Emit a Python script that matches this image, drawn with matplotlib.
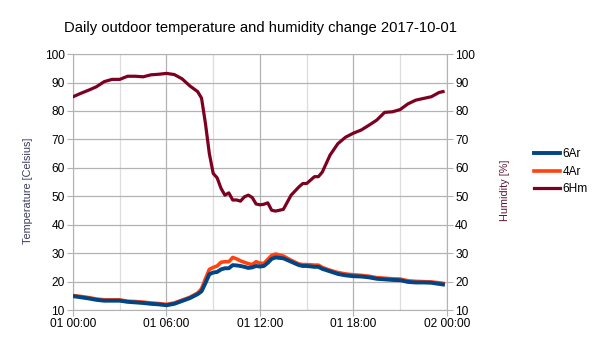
"""
Daily outdoor temperature and humidity change, 2017-10-01.
Recreates a LibreOffice-style line chart with a mirrored right axis.
"""

import matplotlib
matplotlib.use("Agg")

import matplotlib.dates as mdates
import matplotlib.pyplot as plt
import pandas as pd

plt.rcParams["font.family"] = ["Liberation Sans", "DejaVu Sans"]

# ---------------------------------------------------------------------------
# Data
# ---------------------------------------------------------------------------

hours = [
    0, 0.5, 1, 1.5, 2, 2.5, 3, 3.5, 4, 4.5, 5, 5.5, 6, 6.5, 7, 7.5, 8,
    8.25, 8.5, 8.75, 9, 9.25, 9.5, 9.75, 10, 10.25, 10.5, 10.75, 11, 11.25,
    11.5, 11.75, 12, 12.25, 12.5, 12.75,
    13, 13.5, 14, 14.5, 14.75, 15, 15.5, 15.75,
    16, 16.5, 17, 17.5, 18, 18.5, 19, 19.5, 20, 20.5, 21, 21.5, 22, 22.5,
    23, 23.5, 23.75,
]

temp_6ar = [
    14.9, 14.5, 14.1, 13.6, 13.3, 13.3, 13.3, 12.9, 12.7, 12.5, 12.2, 12.0,
    11.7, 12.2, 13.2, 14.2, 15.6,
    16.6, 19.5, 22.6, 23.2, 23.4, 24.3, 24.7, 24.7, 25.8, 25.7, 25.5, 25.2,
    24.8, 25.0, 25.5, 25.3, 25.5, 26.6, 28.0,
    28.5, 28.2, 27.0, 25.8, 25.5, 25.5, 25.2, 25.2,
    24.5, 23.6, 22.7, 22.2, 21.9, 21.8, 21.5, 21.0, 20.8, 20.6, 20.5, 19.9,
    19.7, 19.7, 19.6, 19.2, 19.0,
]

temp_4ar = [
    15.1, 14.8, 14.4, 13.9, 13.6, 13.6, 13.6, 13.1, 13.0, 12.8, 12.5, 12.3,
    12.0, 12.5, 13.5, 14.5, 16.0,
    17.5, 21.0, 24.3, 25.0, 25.5, 26.8, 27.0, 27.0, 28.5, 28.0, 27.3, 26.8,
    26.3, 26.0, 27.0, 26.5, 26.4, 27.8, 29.2,
    29.7, 29.0, 27.5, 26.2, 26.0, 26.0, 25.8, 25.8,
    25.0, 24.0, 23.2, 22.7, 22.4, 22.2, 21.9, 21.4, 21.2, 21.0, 20.9, 20.3,
    20.1, 20.0, 19.9, 19.6, 19.4,
]

hum_6hm = [
    85.0, 86.2, 87.3, 88.5, 90.3, 91.1, 91.1, 92.2, 92.2, 92.0, 92.7, 92.9,
    93.2, 92.8, 91.3, 88.8, 86.8,
    84.5, 75.6, 65.0, 58.0, 56.5, 52.8, 50.4, 51.2, 48.7, 48.7, 48.3, 49.8,
    50.4, 49.6, 47.3, 47.0, 47.2, 47.7, 45.1,
    44.8, 45.4, 50.4, 53.3, 54.5, 54.5, 56.9, 56.9,
    58.5, 64.5, 68.5, 70.8, 72.2, 73.3, 75.0, 76.8, 79.5, 79.7, 80.5, 82.5,
    83.8, 84.4, 85.0, 86.5, 86.8,
]

y_ticks = [10, 20, 30, 40, 50, 60, 70, 80, 90, 100]

# ---------------------------------------------------------------------------
# Chart
# ---------------------------------------------------------------------------

day = pd.Timestamp("2017-10-01")
times = day + pd.to_timedelta(hours, unit="h")

GRID = "#b3b3b3"
GRID_MINOR = "#dddddd"

fig = plt.figure(figsize=(6.05, 3.4), dpi=100)
ax = fig.add_axes([0.1207, 0.088, 0.618, 0.753])

ax.plot(times, hum_6hm, color="#7e0021", lw=2.3, zorder=3, label="6Hm")
ax.plot(times, temp_4ar, color="#ff420e", lw=2.6, zorder=4, label="4Ar")
ax.plot(times, temp_6ar, color="#004586", lw=2.8, zorder=5, label="6Ar")

ax.set_xlim(day, day + pd.Timedelta(hours=24))
ax.set_ylim(10, 100)
ax.set_yticks(y_ticks)

ax.xaxis.set_major_locator(mdates.HourLocator(byhour=[0, 6, 12, 18]))
ax.xaxis.set_minor_locator(mdates.HourLocator(byhour=[3, 9, 15, 21]))
ax.xaxis.set_major_formatter(mdates.DateFormatter("%d %H:%M"))

ax.grid(which="major", color=GRID, lw=0.9, zorder=0)
ax.grid(which="minor", axis="x", color=GRID_MINOR, lw=0.9, zorder=0)
ax.set_axisbelow(True)
ax.tick_params(which="major", length=4, color=GRID, labelsize=8.6, pad=2)
ax.tick_params(which="minor", length=0)
for spine in ax.spines.values():
    spine.set_color(GRID)

ax2 = ax.twinx()
ax2.set_ylim(10, 100)
ax2.set_yticks(y_ticks)
ax2.tick_params(length=4, color=GRID, labelsize=8.6, pad=2)
for spine in ax2.spines.values():
    spine.set_visible(False)

fig.text(0.431, 0.918, "Daily outdoor temperature and humidity change 2017-10-01",
         ha="center", va="center", fontsize=10.6)
fig.text(0.046, 0.44, "Temperature [Celsius]", rotation=90,
         ha="center", va="center", fontsize=7.8, color="#3a3a5c")
fig.text(0.835, 0.44, "Humidity [%]", rotation=90,
         ha="center", va="center", fontsize=7.8, color="#5c1a3c")

handles, labels = ax.get_legend_handles_labels()
order = [2, 1, 0]
fig.legend([handles[i] for i in order], [labels[i] for i in order],
           loc="center left", bbox_to_anchor=(0.865, 0.495), frameon=False,
           fontsize=8.6, handlelength=2.2, handletextpad=0.2, labelspacing=0.45)

fig.savefig("out.png", dpi=100)
